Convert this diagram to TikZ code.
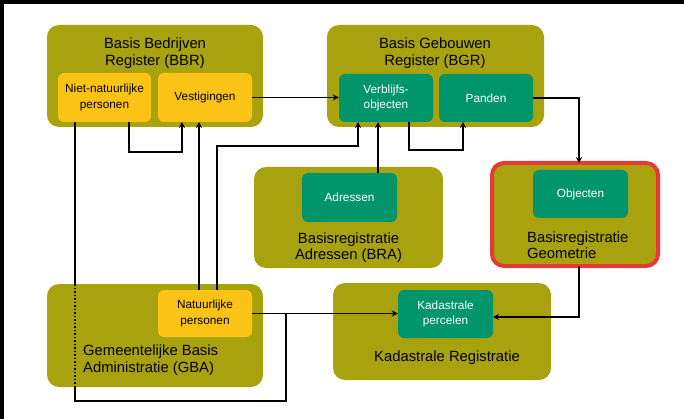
\documentclass[tikz,border=0pt]{standalone}
\usepackage{fontspec}
\setmainfont{Liberation Sans}
\usetikzlibrary{arrows.meta}
\definecolor{olive}{HTML}{A8A20E}
\definecolor{ylw}{HTML}{FBC316}
\definecolor{grn}{HTML}{00956A}
\definecolor{redb}{HTML}{E53A35}
\begin{document}
\begin{tikzpicture}[x=1pt,y=-1pt,
  outerbox/.style={fill=olive,rounded corners=12pt,inner sep=0pt},
  ybox/.style={fill=ylw,rounded corners=6pt,inner sep=0pt,align=center,text=black,font=\fontsize{11.8}{15.5}\selectfont},
  gbox/.style={fill=grn,rounded corners=6pt,inner sep=0pt,align=center,text=white,font=\fontsize{11.8}{15.5}\selectfont},
  ttl/.style={font=\fontsize{14.8}{16.5}\selectfont,inner sep=0pt},
  conn/.style={line width=1.5pt,draw=black},
  arr/.style={conn,-{Stealth[length=6pt,width=6pt]}}]
\useasboundingbox (0,0) rectangle (684,419);
\fill[white] (0,0) rectangle (684,419);
\fill[black] (0,0) rectangle (684,4);
\fill[black] (0,0) rectangle (4,419);

% outer boxes
\node[outerbox,minimum width=216pt,minimum height=102pt] (BBR) at (155,76) {};
\node[outerbox,minimum width=217pt,minimum height=102pt] (BGR) at (435.5,76) {};
\node[outerbox,minimum width=189pt,minimum height=101pt] (BRA) at (348.5,217.5) {};
\node[outerbox,draw=redb,line width=4pt,minimum width=166pt,minimum height=103pt] (BRG) at (575,214.5) {};
\node[outerbox,minimum width=216pt,minimum height=103pt] (GBA) at (155,335.5) {};
\node[outerbox,minimum width=218pt,minimum height=97pt] (KAD) at (442,331.5) {};

% titles
\node[ttl,align=center] (tBBR) at (155,53) {Basis Bedrijven\\Register (BBR)};
\node[ttl,align=center] (tBGR) at (435,53) {Basis Gebouwen\\Register (BGR)};
\node[ttl,align=center] (tBRA) at (348.5,247.5) {Basisregistratie\\Adressen (BRA)};
\node[ttl,align=left,anchor=west] (tBRG) at (527,245) {Basisregistratie\\Geometrie};
\node[ttl,align=left,anchor=west] (tGBA) at (83,360) {Gemeentelijke Basis\\Administratie (GBA)};
\node[ttl] (tKAD) at (447,358) {Kadastrale Registratie};

% inner boxes
\node[ybox,minimum width=93pt,minimum height=49pt] (NNP) at (104.5,97.5) {Niet-natuurlijke\\personen};
\node[ybox,minimum width=94pt,minimum height=49pt] (VES) at (205,97.5) {Vestigingen};
\node[gbox,minimum width=94pt,minimum height=48pt] (VBO) at (386,98) {Verblijfs-\\objecten};
\node[gbox,minimum width=94pt,minimum height=48pt] (PND) at (486,98) {Panden};
\node[gbox,minimum width=95pt,minimum height=49pt] (ADR) at (349.5,197.5) {Adressen};
\node[gbox,minimum width=95pt,minimum height=48pt] (OBJ) at (580.5,194) {Objecten};
\node[ybox,minimum width=94pt,minimum height=47pt] (NP) at (205,313.5) {Natuurlijke\\personen};
\node[gbox,minimum width=95pt,minimum height=48pt] (KP) at (445.5,314) {Kadastrale\\percelen};

% helper coordinates
\coordinate (b1) at (129,122);
\coordinate (b2) at (182,122);
\coordinate (c1) at (199,290);
\coordinate (c2) at (199,122);
\coordinate (d1) at (217,290);
\coordinate (d2) at (358,122);
\coordinate (e1) at (378,173);
\coordinate (e2) at (378,122);
\coordinate (f1) at (409,122);
\coordinate (f2) at (463,122);
\coordinate (g1) at (579,163);
\coordinate (h1) at (579,266);
\coordinate (h2) at (493,317);
\coordinate (j1) at (286,314);
\coordinate (j2) at (75,122);
\coordinate (j3) at (75,284);
\coordinate (j4) at (75,387);

% connectors
\draw[arr] (VES.east) -- (VES.east -| VBO.west);
\draw[arr] (b1) -- ++(0,30) -| (b2);
\draw[arr] (c1) -- (c2);
\draw[arr] (d1) |- (217,146) -| (d2);
\draw[arr] (e1) -- (e2);
\draw[arr] (f1) -- ++(0,28) -| (f2);
\draw[arr] (PND.east) -| (g1);
\draw[arr] (h1) |- (h2);
\draw[arr] (NP.east) -- (NP.east -| KP.west);
\draw[conn] (j1) |- (75,401) -- (j4);
\draw[conn] (j2) -- (j3);
\draw[conn,dotted] (j3) -- (j4);
\end{tikzpicture}
\end{document}
